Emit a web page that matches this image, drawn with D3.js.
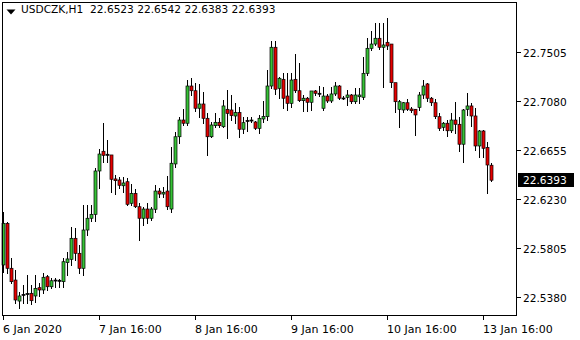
<!DOCTYPE html>
<html><head><meta charset="utf-8">
<script src="https://cdn.jsdelivr.net/npm/d3@7"></script>
<style>html,body{margin:0;padding:0;background:#fff;}svg{display:block;}text{font-family:"DejaVu Sans",sans-serif;}</style>
</head><body><svg id="c" width="580" height="340"></svg>
<script>
const symbol = "USDCZK,H1";
const open = [
22.5658,22.6019,22.5629,22.5527,22.5345,22.5395,22.5406,22.5412,22.5389,22.5461,
22.5441,22.5556,22.5469,22.5519,22.5525,22.5513,22.5678,22.5707,22.5889,22.5759,
22.5629,22.5961,22.6063,22.6097,22.6473,22.6644,22.6618,22.6612,22.6404,22.6395,
22.6345,22.6380,22.6193,22.6279,22.6163,22.6063,22.6143,22.6063,22.6141,22.6299,
22.6273,22.6299,22.6143,22.6534,22.6770,22.6915,22.6887,22.7210,22.7169,22.7017,
22.7054,22.6930,22.6770,22.6866,22.6895,22.6857,22.7008,22.7002,22.6950,22.6979,
22.6835,22.6907,22.6911,22.6898,22.6843,22.6924,22.6944,22.7210,22.7546,22.7190,
22.7268,22.7123,22.7060,22.7268,22.7169,22.7083,22.7104,22.7069,22.7167,22.7147,
22.7017,22.7123,22.7080,22.7141,22.7210,22.7106,22.7112,22.7132,22.7074,22.7117,
22.7112,22.7320,22.7537,22.7574,22.7624,22.7546,22.7589,22.7574,22.7239,22.7008,
22.7002,22.7065,22.7011,22.7008,22.7025,22.7132,22.7228,22.7104,22.7065,22.6944,
22.6852,22.6887,22.6822,22.6915,22.6878,22.6705,22.7008,22.7037,22.6950,22.6690,
22.6820,22.6678,22.6523];
const high = [
22.6117,22.6028,22.5716,22.5614,22.5426,22.5484,22.5571,22.5484,22.5571,22.5499,
22.5586,22.5571,22.5542,22.5542,22.5534,22.5716,22.5773,22.5985,22.5976,22.5831,
22.6178,22.6178,22.6178,22.6496,22.6661,22.6892,22.6742,22.6612,22.6438,22.6423,
22.6423,22.6410,22.6360,22.6314,22.6193,22.6163,22.6193,22.6163,22.6351,22.6323,
22.6337,22.6430,22.6684,22.6814,22.6944,22.7008,22.7262,22.7277,22.7234,22.7228,
22.7161,22.6979,22.6901,22.6979,22.6930,22.7089,22.7176,22.7132,22.7060,22.7031,
22.6944,22.6944,22.6944,22.6907,22.6959,22.7080,22.7349,22.7603,22.7603,22.7291,
22.7326,22.7326,22.7326,22.7488,22.7407,22.7132,22.7117,22.7167,22.7176,22.7210,
22.7199,22.7141,22.7199,22.7247,22.7219,22.7123,22.7176,22.7141,22.7190,22.7190,
22.7464,22.7624,22.7690,22.7759,22.7759,22.7759,22.7797,22.7574,22.7239,22.7089,
22.7074,22.7095,22.7031,22.7008,22.7161,22.7262,22.7236,22.7117,22.7095,22.6973,
22.6901,22.6915,22.6973,22.7074,22.6939,22.7008,22.7147,22.7060,22.7017,22.6829,
22.6829,22.6727,22.6542];
const low = [
22.5599,22.5586,22.5499,22.5325,22.5282,22.5325,22.5325,22.5317,22.5339,22.5389,
22.5412,22.5441,22.5455,22.5469,22.5469,22.5469,22.5571,22.5658,22.5701,22.5586,
22.5571,22.5918,22.6042,22.6042,22.6328,22.6554,22.6554,22.6293,22.6273,22.6328,
22.6293,22.6178,22.6178,22.6158,22.5874,22.6004,22.6019,22.6048,22.6120,22.6250,
22.6245,22.6141,22.6120,22.6508,22.6713,22.6872,22.6872,22.7132,22.6996,22.6939,
22.6892,22.6612,22.6770,22.6857,22.6857,22.6852,22.6757,22.6915,22.6887,22.6770,
22.6800,22.6822,22.6894,22.6837,22.6800,22.6901,22.6915,22.7190,22.7141,22.7104,
22.7017,22.7002,22.7025,22.7161,22.7083,22.6996,22.6996,22.7002,22.7132,22.7126,
22.7002,22.7074,22.7074,22.7132,22.7095,22.7095,22.7045,22.7065,22.7065,22.7060,
22.7095,22.7306,22.7522,22.7566,22.7529,22.7204,22.7529,22.7204,22.6987,22.6857,
22.6987,22.7002,22.6987,22.6785,22.7002,22.7104,22.7083,22.7045,22.6930,22.6829,
22.6829,22.6777,22.6814,22.6805,22.6649,22.6554,22.6959,22.6863,22.6655,22.6592,
22.6597,22.6285,22.6383];
const close = [
22.6019,22.5629,22.5513,22.5354,22.5389,22.5403,22.5410,22.5348,22.5455,22.5441,
22.5551,22.5469,22.5521,22.5527,22.5516,22.5686,22.5710,22.5889,22.5759,22.5629,
22.5961,22.6063,22.6097,22.6473,22.6620,22.6609,22.6609,22.6401,22.6389,22.6349,
22.6369,22.6184,22.6279,22.6163,22.6063,22.6143,22.6063,22.6143,22.6299,22.6273,
22.6288,22.6163,22.6540,22.6770,22.6915,22.6887,22.7210,22.7169,22.7017,22.7054,
22.6930,22.6770,22.6872,22.6895,22.6866,22.7037,22.6973,22.6953,22.6979,22.6835,
22.6892,22.6911,22.6915,22.6843,22.6930,22.6946,22.7210,22.7546,22.7182,22.7277,
22.7104,22.7060,22.7262,22.7169,22.7083,22.7104,22.7069,22.7167,22.7147,22.7143,
22.7123,22.7080,22.7141,22.7210,22.7104,22.7100,22.7132,22.7074,22.7132,22.7132,
22.7320,22.7537,22.7574,22.7624,22.7546,22.7566,22.7557,22.7239,22.7074,22.7074,
22.7065,22.7008,22.6996,22.6959,22.7132,22.7210,22.7104,22.7065,22.6944,22.6843,
22.6887,22.6822,22.6915,22.6878,22.6705,22.7002,22.7037,22.6950,22.6690,22.6820,
22.6670,22.6525,22.6393];
const xTickIndex = [0,24,48,72,96,120];
const xTickLabels = ["6 Jan 2020","7 Jan 16:00","8 Jan 16:00","9 Jan 16:00","10 Jan 16:00","13 Jan 16:00"];
const yTicks = [22.5380,22.5805,22.6230,22.6655,22.7080,22.7505];

const n = open.length;
const bars = d3.range(n).map(i => ({i, o: open[i], h: high[i], l: low[i], c: close[i]}));
const last = bars[n-1];

const svg = d3.select("#c");
svg.append("rect").attr("width",580).attr("height",340).attr("fill","#fff");

const x = d3.scaleLinear().domain([0, n-1]).range([3, 3 + 4*(n-1)]);
const y = d3.scaleLinear().domain([22.538, 22.7505]).range([297, 52]);
const BULL = "#36c236", BEAR = "#e60000";

const g = svg.append("g");
// wicks
g.selectAll("line.wick").data(bars).join("line").attr("class","wick")
  .attr("x1", d => Math.round(x(d.i)) + 0.5).attr("x2", d => Math.round(x(d.i)) + 0.5)
  .attr("y1", d => Math.round(y(d.h))).attr("y2", d => Math.round(y(d.l)) + 1)
  .attr("stroke","#000").attr("stroke-width",1).attr("shape-rendering","crispEdges");
// bodies
g.selectAll("rect.body").data(bars).join("rect").attr("class","body")
  .attr("x", d => Math.round(x(d.i)) - 1)
  .attr("y", d => Math.min(y(d.o), y(d.c)))
  .attr("width", 3)
  .attr("height", d => Math.max(1, Math.abs(y(d.o) - y(d.c))))
  .attr("fill", d => Math.abs(y(d.o) - y(d.c)) < 1.5 ? "#000" : (d.c >= d.o ? BULL : BEAR))
  .attr("stroke","#000").attr("stroke-width",0.7);

// frame
svg.append("rect").attr("x",2.5).attr("y",2.5).attr("width",514).attr("height",312.5)
  .attr("fill","none").attr("stroke","#000").attr("stroke-width",1).attr("shape-rendering","crispEdges");

// right axis
const ya = svg.append("g");
yTicks.forEach(v => {
  const yy = Math.round(y(v)) + 0.5;
  ya.append("line").attr("x1",517).attr("x2",521).attr("y1",yy).attr("y2",yy)
    .attr("stroke","#000").attr("shape-rendering","crispEdges");
  ya.append("text").attr("x",523).attr("y",yy+4).attr("font-size","10.6px").attr("fill","#000")
    .text(d3.format(".4f")(v));
});
// current price label
const py = y(last.c);
svg.append("rect").attr("x",518).attr("y",Math.round(py)-7).attr("width",56).attr("height",14).attr("fill","#000");
svg.append("text").attr("x",523).attr("y",Math.round(py)+4).attr("font-size","10.6px").attr("fill","#fff")
  .text(d3.format(".4f")(last.c));

// bottom axis
const xa = svg.append("g");
xTickIndex.forEach((idx, k) => {
  const xx = Math.round(x(idx)) + 0.5;
  xa.append("line").attr("x1",xx).attr("x2",xx).attr("y1",315).attr("y2",320)
    .attr("stroke","#000").attr("shape-rendering","crispEdges");
  xa.append("text").attr("x",Math.round(x(idx))).attr("y",333).attr("font-size","11px").attr("fill","#000")
    .text(xTickLabels[k]);
});

// header
svg.append("path").attr("d","M6.5,9.5 L15.5,9.5 L11,14.5 Z").attr("fill","#000");
svg.append("text").attr("x",21).attr("y",13).attr("font-size","10.6px").attr("fill","#000")
  .style("white-space","pre")
  .text(symbol + "  " + [last.o, last.h, last.l, last.c].map(d3.format(".4f")).join(" "));
</script></body></html>
